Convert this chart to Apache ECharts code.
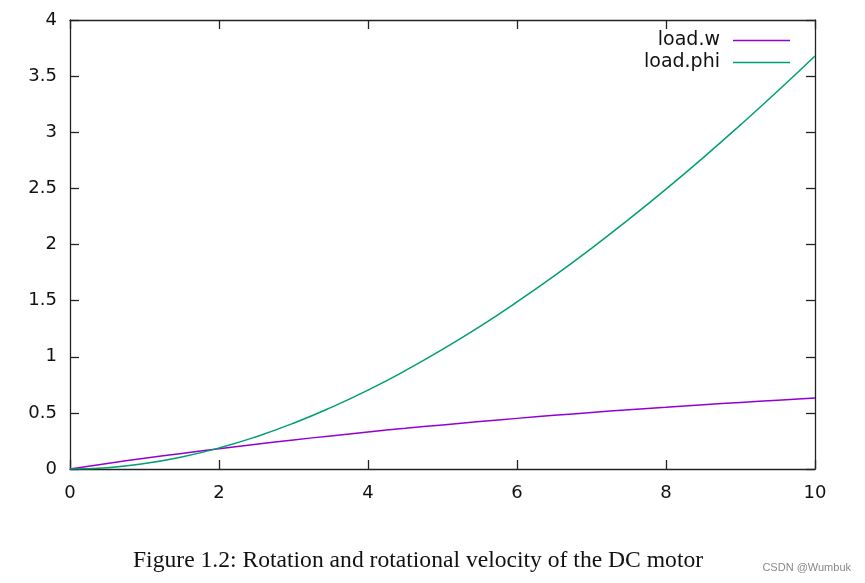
<!DOCTYPE html>
<html>
<head>
<meta charset="utf-8">
<script src="https://cdn.jsdelivr.net/npm/echarts@6/dist/echarts.min.js"></script>
<style>html,body{margin:0;padding:0;background:#fff;}#c{width:865px;height:583px;}</style>
</head>
<body>
<div id="c"></div>
<script>
var timeValues = [0,0.5,1,1.5,2,2.5,3,3.5,4,4.5,5,5.5,6,6.5,7,7.5,8,8.5,9,9.5,10];
var loadW = [0,0.049,0.095,0.139,0.181,0.221,0.259,0.295,0.330,0.362,0.393,0.423,0.451,0.478,0.503,0.528,0.551,0.573,0.593,0.613,0.632];
var loadPhi = [0,0.012,0.048,0.107,0.187,0.288,0.408,0.547,0.703,0.876,1.065,1.269,1.488,1.720,1.966,2.224,2.493,2.774,3.066,3.367,3.679];
var seriesNames = ['load.w','load.phi'];
var captionText = 'Figure 1.2: Rotation and rotational velocity of the DC motor';
var watermarkText = 'CSDN @Wumbuk';

function pairs(xs, ys){ return xs.map(function(x,i){ return [x, ys[i]]; }); }

var chart = echarts.init(document.getElementById('c'), null, {renderer:'canvas'});
var axisCol = '#222';
var font = 'DejaVu Sans';
function mirrorAxis(extra){
  return Object.assign({
    type:'value',
    axisLine:{show:true, onZero:false, lineStyle:{color:axisCol, width:1.3}},
    axisTick:{show:true, inside:true, length:9, lineStyle:{color:axisCol, width:1.3}},
    axisLabel:{show:false}, splitLine:{show:false}
  }, extra);
}
chart.setOption({
  animation:false,
  backgroundColor:'#fff',
  title:[
    {text:captionText, left:133, top:549, textStyle:{fontFamily:'Liberation Serif', fontSize:23.6, fontWeight:'normal', color:'#111'}, padding:0, itemGap:0},
    {text:watermarkText, right:14, top:562, textStyle:{fontFamily:'Liberation Sans', fontSize:11, fontWeight:'normal', color:'#888'}, padding:0}
  ],
  legend:[
    {data:[seriesNames[0]], right:75, top:31, align:'right', icon:'rect', itemWidth:57, itemHeight:1.5,
     textStyle:{fontFamily:font, fontSize:19, color:'#111', padding:[0,8,0,0]}, padding:0, selectedMode:false},
    {data:[seriesNames[1]], right:75, top:53, align:'right', icon:'rect', itemWidth:57, itemHeight:1.5,
     textStyle:{fontFamily:font, fontSize:19, color:'#111', padding:[0,8,0,0]}, padding:0, selectedMode:false}
  ],
  grid:{left:70, right:50, top:20, bottom:114, containLabel:false},
  xAxis:[
    {type:'value', min:0, max:10, interval:2, position:'bottom',
     axisLine:{show:true, onZero:false, lineStyle:{color:axisCol, width:1.3}},
     axisTick:{show:true, inside:true, length:9, lineStyle:{color:axisCol, width:1.3}},
     axisLabel:{fontFamily:font, fontSize:18, color:'#111', margin:15},
     splitLine:{show:false}},
    mirrorAxis({min:0, max:10, interval:2, position:'top'})
  ],
  yAxis:[
    {type:'value', min:0, max:4, interval:0.5, position:'left',
     axisLine:{show:true, onZero:false, lineStyle:{color:axisCol, width:1.3}},
     axisTick:{show:true, inside:true, length:9, lineStyle:{color:axisCol, width:1.3}},
     axisLabel:{fontFamily:font, fontSize:18, color:'#111', margin:13},
     splitLine:{show:false}},
    mirrorAxis({min:0, max:4, interval:0.5, position:'right'})
  ],
  series:[
    {name:seriesNames[0], type:'line', data:pairs(timeValues, loadW), smooth:true, showSymbol:false, symbol:'none',
     lineStyle:{color:'#9400d3', width:1.5}, itemStyle:{color:'#9400d3'}},
    {name:seriesNames[1], type:'line', data:pairs(timeValues, loadPhi), smooth:true, showSymbol:false, symbol:'none',
     lineStyle:{color:'#009e73', width:1.5}, itemStyle:{color:'#009e73'}}
  ]
});
</script>
</body>
</html>
